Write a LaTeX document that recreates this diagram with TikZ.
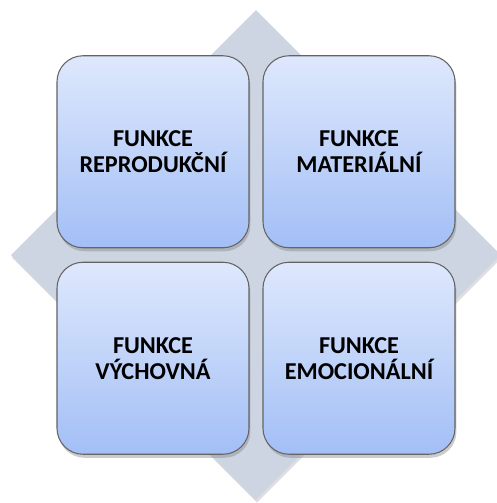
\documentclass[tikz,border=0pt]{standalone}
\usepackage{fontspec}
\setmainfont{Carlito}
\usetikzlibrary{shadows}
\pgfdeclarelayer{edgelayer}
\pgfdeclarelayer{nodelayer}
\pgfsetlayers{edgelayer,nodelayer,main}
\definecolor{diamondgray}{RGB}{205,213,227}
\definecolor{boxtop}{RGB}{222,232,252}
\definecolor{boxbottom}{RGB}{163,191,246}
\definecolor{boxline}{RGB}{100,100,100}
\tikzset{font=\fontsize{13.8}{14.8}\selectfont\bfseries}
\tikzstyle{none}=[inner sep=0pt]
\tikzstyle{rhomb}=[fill=diamondgray,drop shadow={shadow xshift=0.6pt,shadow yshift=-1.5pt,opacity=0.25}]
\tikzstyle{func}=[rectangle,rounded corners=0.52cm,minimum size=3.84cm,align=center,draw=boxline,line width=0.6pt,top color=boxtop,bottom color=boxbottom,drop shadow={shadow xshift=0.8pt,shadow yshift=-2pt,opacity=0.4}]

\begin{document}
\begin{tikzpicture}
	\useasboundingbox (-5.12,-4.96) rectangle (4.82,5.10);
	\begin{pgfonlayer}{nodelayer}
		\node [style=none] (top) at (0, 4.9) {};
		\node [style=none] (left) at (-4.9, 0) {};
		\node [style=none] (bottom) at (0, -4.9) {};
		\node [style=none] (right) at (4.9, 0) {};
		\node [style=func] (repro) at (-2.06, 2.065) {FUNKCE\\REPRODUKČNÍ};
		\node [style=func] (mater) at (2.06, 2.065) {FUNKCE\\MATERIÁLNÍ};
		\node [style=func] (vychov) at (-2.06, -2.065) {FUNKCE\\VÝCHOVNÁ};
		\node [style=func] (emoc) at (2.06, -2.065) {FUNKCE\\EMOCIONÁLNÍ};
	\end{pgfonlayer}
	\begin{pgfonlayer}{edgelayer}
		\path [style=rhomb] (top.center) -- (right.center) -- (bottom.center) -- (left.center) -- cycle;
	\end{pgfonlayer}
\end{tikzpicture}
\end{document}
